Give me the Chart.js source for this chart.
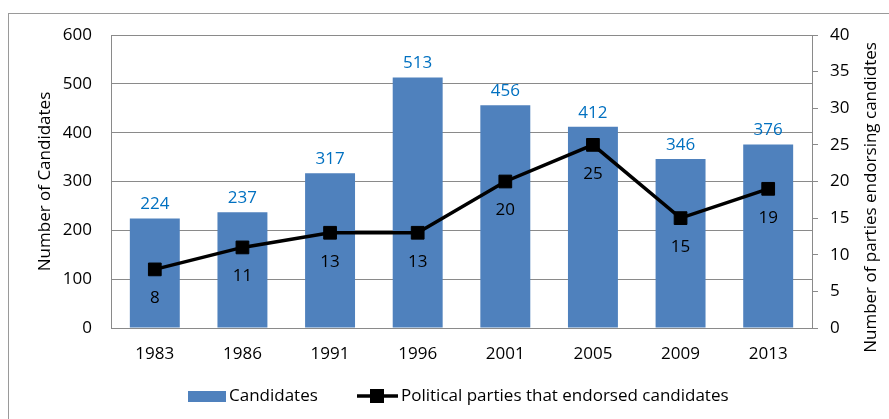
<!DOCTYPE html>
<html>
<head>
<meta charset="utf-8">
<script src="https://cdn.jsdelivr.net/npm/chart.js@4/dist/chart.umd.min.js"></script>
<style>
html,body{margin:0;padding:0;background:#fff;}
#wrap{width:889px;height:419px;position:relative;}
</style>
</head>
<body>
<div id="wrap"><canvas id="c" width="889" height="419"></canvas></div>
<script>
const years = ['1983','1986','1991','1996','2001','2005','2009','2013'];
const candidates = [224,237,317,513,456,412,346,376];
const parties = [8,11,13,13,20,25,15,19];
const leftTicks = [0,100,200,300,400,500,600];
const rightTicks = [0,5,10,15,20,25,30,35,40];
const leftTitle = 'Number of Candidates';
const rightTitle = 'Number of parties endorsing candidtes';

const FONT = '"Open Sans", sans-serif';
const FS = 17;
const BLUE = '#4F81BD';
const LABEL_BLUE = '#0070C0';
const GRID = '#8a8a8a';

const framePlugin = {
  id: 'frame',
  beforeDraw(chart) {
    const ctx = chart.ctx;
    ctx.save();
    ctx.fillStyle = '#fff';
    ctx.fillRect(0,0,chart.width,chart.height);
    ctx.strokeStyle = '#9a9a9a';
    ctx.lineWidth = 1;
    ctx.strokeRect(8.5, 13.5, 900, 430);
    ctx.restore();
  }
};

const titlePlugin = {
  id: 'titles',
  afterDraw(chart) {
    const ctx = chart.ctx;
    const a = chart.chartArea;
    const cy = (a.top + a.bottom) / 2;
    [[leftTitle, 45, cy], [rightTitle, 871, cy + 16]].forEach(([t, x, y]) => {
      ctx.save();
      ctx.font = FS + 'px ' + FONT;
      ctx.fillStyle = '#000';
      ctx.textAlign = 'center';
      ctx.textBaseline = 'middle';
      ctx.translate(x, y);
      ctx.rotate(-Math.PI / 2);
      ctx.fillText(t, 0, 0);
      ctx.restore();
    });
  }
};

const labelPlugin = {
  id: 'labels',
  afterDatasetsDraw(chart) {
    const ctx = chart.ctx;
    ctx.save();
    ctx.font = FS + 'px ' + FONT;
    ctx.textAlign = 'center';
    ctx.textBaseline = 'middle';
    const barMeta = chart.getDatasetMeta(0);
    ctx.fillStyle = LABEL_BLUE;
    barMeta.data.forEach((el, i) => {
      ctx.fillText(String(candidates[i]), el.x, el.y - 14);
    });
    const lineMeta = chart.getDatasetMeta(1);
    ctx.fillStyle = '#000';
    lineMeta.data.forEach((el, i) => {
      ctx.fillText(String(parties[i]), el.x, el.y + 29);
    });
    ctx.restore();
  }
};

const legendPlugin = {
  id: 'customLegend',
  afterDraw(chart) {
    const ctx = chart.ctx;
    ctx.save();
    const y = 396;
    ctx.fillStyle = BLUE;
    ctx.fillRect(188, 391, 38, 11);
    ctx.fillStyle = '#000';
    ctx.font = FS + 'px ' + FONT;
    ctx.textAlign = 'left';
    ctx.textBaseline = 'middle';
    ctx.fillText(chart.data.datasets[0].label, 229, y);
    ctx.strokeStyle = '#000';
    ctx.lineWidth = 3.5;
    ctx.beginPath();
    ctx.moveTo(357, y);
    ctx.lineTo(398, y);
    ctx.stroke();
    ctx.fillRect(370, y - 7, 14, 14);
    ctx.fillText(chart.data.datasets[1].label, 401, y);
    ctx.restore();
  }
};

new Chart(document.getElementById('c'), {
  data: {
    labels: years,
    datasets: [
      {
        type: 'bar',
        label: 'Candidates',
        data: candidates,
        yAxisID: 'y',
        backgroundColor: BLUE,
        borderWidth: 0,
        categoryPercentage: 1,
        barPercentage: 0.57,
        order: 1
      },
      {
        type: 'line',
        label: 'Political parties that endorsed candidates',
        data: parties,
        yAxisID: 'y1',
        borderColor: '#000',
        backgroundColor: '#000',
        borderWidth: 3.5,
        pointStyle: 'rect',
        pointRadius: 9,
        pointBorderWidth: 1,
        pointBackgroundColor: '#000',
        pointBorderColor: '#000',
        tension: 0,
        order: 0
      }
    ]
  },
  plugins: [framePlugin, labelPlugin, legendPlugin, titlePlugin],
  options: {
    responsive: false,
    animation: false,
    devicePixelRatio: 1,
    layout: { padding: { top: 35, left: 0, right: 0, bottom: 0 } },
    plugins: { legend: { display: false }, tooltip: { enabled: false } },
    scales: {
      x: {
        position: 'bottom',
        grid: { display: false, drawTicks: false },
        border: { display: true, color: GRID, width: 1 },
        ticks: { color: '#000', font: { family: FONT, size: FS }, padding: 16, maxRotation: 0 },
        afterFit(s) { s.height = 91; }
      },
      y: {
        position: 'left',
        min: 0, max: 600,
        afterBuildTicks(s) { s.ticks = leftTicks.map(v => ({ value: v })); },
        grid: { color: GRID, drawTicks: false, lineWidth: 1 },
        border: { display: true, color: GRID, width: 1 },
        ticks: { color: '#000', font: { family: FONT, size: FS }, padding: 19 },
        afterFit(s) { s.width = 111; }
      },
      y1: {
        position: 'right',
        min: 0, max: 40,
        afterBuildTicks(s) { s.ticks = rightTicks.map(v => ({ value: v })); },
        grid: { drawOnChartArea: false, drawTicks: true, tickLength: 6, color: GRID },
        border: { display: true, color: GRID, width: 1 },
        ticks: { color: '#000', font: { family: FONT, size: FS }, padding: 12 },
        afterFit(s) { s.width = 77; }
      }
    }
  }
});
</script>
</body>
</html>
